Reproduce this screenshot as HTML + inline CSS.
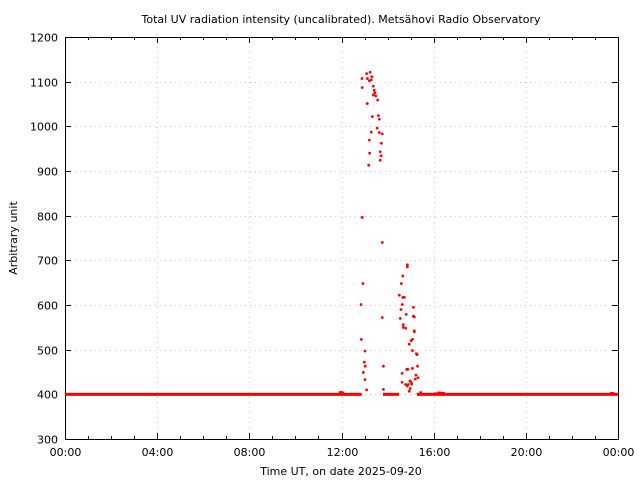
<!DOCTYPE html>
<html><head><meta charset="utf-8"><style>
html,body{margin:0;padding:0;background:#fff;}
svg{display:block;font-family:"DejaVu Sans","Liberation Sans",sans-serif;}
</style></head><body>
<svg id="chart" width="640" height="480" viewBox="0 0 640 480">
<text x="341" y="23" font-size="11" text-anchor="middle">Total UV radiation intensity (uncalibrated). Metsähovi Radio Observatory</text>
<text x="341" y="475" font-size="11" text-anchor="middle">Time UT, on date 2025-09-20</text>
<text transform="translate(17,238) rotate(-90)" font-size="11" text-anchor="middle">Arbitrary unit</text>
<g id="grid"></g>
<g id="axes"></g>
<g id="marks"></g>
</svg>
<script>
const xTickLabels = ["00:00","04:00","08:00","12:00","16:00","20:00","00:00"];
const yTicks = [300,400,500,600,700,800,900,1000,1100,1200];
const baselineSegments = [[0,12.0],[12.0,12.88],[13.8,14.5],[15.27,24]];
const baselineValue = 400;
const bumpTimes = [11.97,12.03,16.1,16.25,16.4,23.75];
const bumpValues = [405,404,402,404,403,403];
const pointTimes = [13.09,13.24,12.89,12.90,13.12,13.21,13.32,13.29,13.38,13.42,13.45,13.49,13.38,13.57,13.12,13.34,13.60,13.64,13.55,13.29,13.64,13.77,13.21,13.73,13.22,13.68,13.72,13.68,13.18,
12.90,13.77,12.93,12.85,13.77,12.86,13.02,12.99,12.95,13.02,13.09,13.03,13.82,13.82,
14.86,14.86,14.66,14.60,14.51,14.66,14.73,14.64,15.12,14.58,14.81,15.12,15.16,14.55,14.68,14.68,14.79,15.16,15.16,15.08,15.02,14.94,15.08,15.25,15.28,15.30,14.83,14.88,15.08,14.63,15.23,15.32,14.97,15.02,14.63,15.20,14.78,14.85,15.05,14.98,14.94,15.44,14.90];
const pointValues = [1118,1121,1107,1087,1107,1102,1111,1104,1090,1081,1075,1068,1070,1059,1051,1022,1024,1016,996,987,986,983,969,962,940,943,934,924,913,
796,740,648,601,572,523,497,472,449,433,410,463,411,463,
685,690,665,648,622,617,617,601,595,590,579,575,573,570,556,550,548,542,540,523,520,512,498,491,489,463,456,456,458,447,443,437,430,427,427,434,422,419,423,413,407,404,422];
const L=65,R=618,T=37,B=439,xMin=0,xMax=24,yMin=300,yMax=1200;
const xs=h=>L+(h-xMin)/(xMax-xMin)*(R-L);
const ys=v=>B-(v-yMin)/(yMax-yMin)*(B-T);
const NS="http://www.w3.org/2000/svg";
function mk(tag,attrs,parent){const e=document.createElementNS(NS,tag);for(const k in attrs)e.setAttribute(k,attrs[k]);parent.appendChild(e);return e;}
const grid=document.getElementById('grid'),axes=document.getElementById('axes'),marks=document.getElementById('marks');
yTicks.forEach(v=>{const y=Math.round(ys(v))+0.5;
 if(v>yMin&&v<yMax){const g=mk('line',{x1:L,x2:R,y1:y,y2:y,stroke:'#c8c8c8','stroke-width':1,'stroke-dasharray':'1,4'},grid);
 
 }
 mk('line',{x1:L,x2:L+6,y1:y,y2:y,stroke:'#000'},axes);
 mk('line',{x1:R-6,x2:R,y1:y,y2:y,stroke:'#000'},axes);
 const t=mk('text',{x:L-7,y:y+4,'font-size':11,'text-anchor':'end'},axes);t.textContent=v;
 
 
});
for(let h=0;h<=24;h++){const x=Math.round(xs(h))+0.5;const major=h%4===0;
 const len=major?6:3;
 mk('line',{x1:x,x2:x,y1:B,y2:B-len,stroke:'#000'},axes);
 mk('line',{x1:x,x2:x,y1:T,y2:T+len,stroke:'#000'},axes);
 if(major){
  if(h>0&&h<24){const g=mk('line',{x1:x,x2:x,y1:T,y2:B,stroke:'#c8c8c8','stroke-width':1,'stroke-dasharray':'1,4'},grid);
  
  }
  const t=mk('text',{x:x,y:B+17,'font-size':11,'text-anchor':'middle'},axes);t.textContent=xTickLabels[h/4];
  
  
 }
}
const frame=mk('rect',{x:L+0.5,y:T+0.5,width:R-L,height:B-T,fill:'none',stroke:'#000'},axes);


baselineSegments.forEach(s=>{const l=mk('line',{x1:xs(s[0]),x2:xs(s[1]),y1:ys(baselineValue),y2:ys(baselineValue),stroke:'#ff0000','stroke-width':3},marks);
 
 });
bumpTimes.forEach((t,i)=>{const c=mk('rect',{x:xs(t)-2,y:ys(bumpValues[i])-1,width:4,height:3,fill:'#ff0000'},marks);
 
 });
pointTimes.forEach((t,i)=>{const c=mk('circle',{cx:xs(t),cy:ys(pointValues[i]),r:1.4,fill:'#ff0000'},marks);
 
 });
</script>
</body></html>
